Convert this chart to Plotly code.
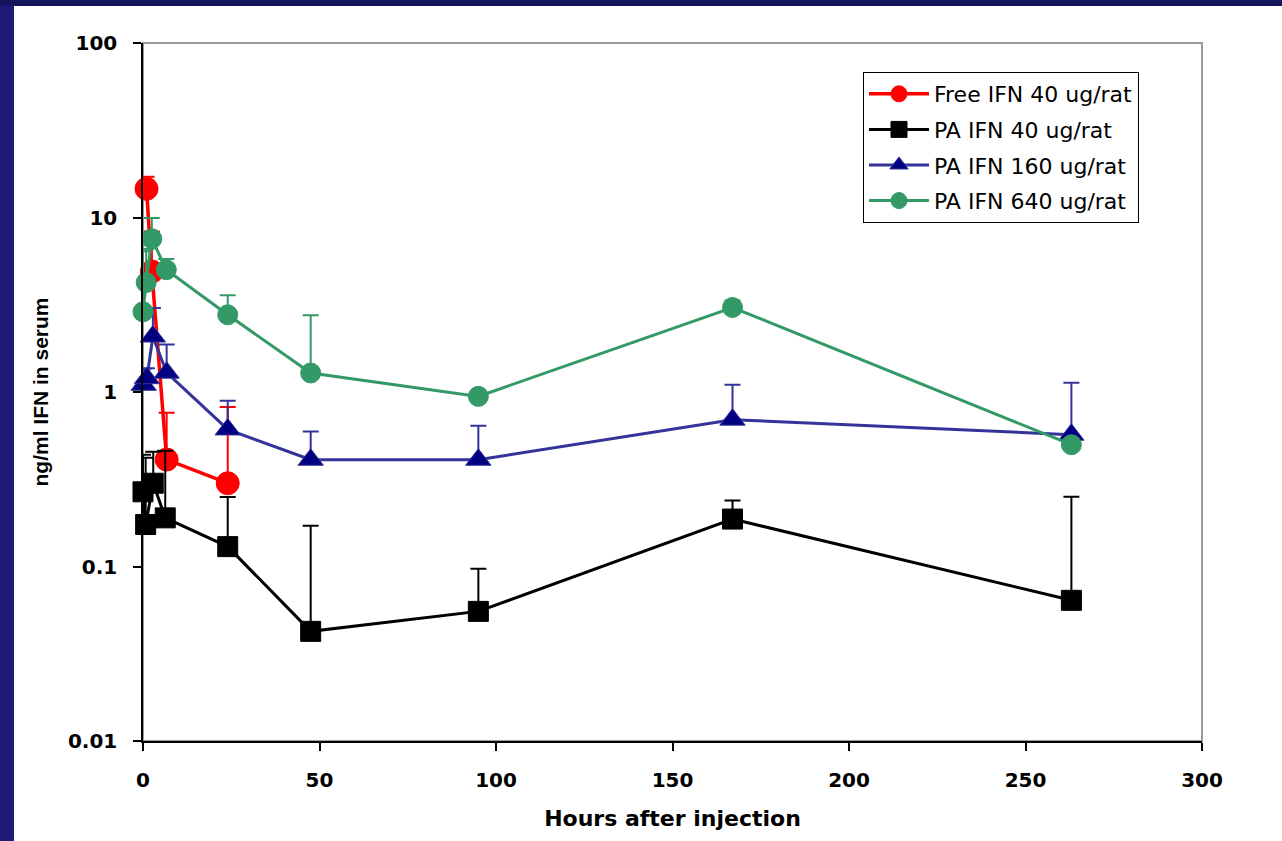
import plotly.graph_objects as go

# ---- data ----
free40_t = [1, 2.5, 6.7, 24]
free40_v = [14.6, 4.9, 0.41, 0.30]
free40_top = [17.1, 8.3, 0.76, 0.82]

pa40_t = [0, 0.75, 2.9, 6.3, 24, 47.5, 95, 167, 263]
pa40_v = [0.268, 0.174, 0.30, 0.19, 0.130, 0.0425, 0.0553, 0.187, 0.064]
pa40_top = [0.437, 0.42, 0.455, 0.46, 0.25, 0.171, 0.097, 0.239, 0.251]

pa160_t = [0.2, 1.1, 2.8, 6.7, 24, 47.5, 95, 167, 263]
pa160_v = [1.10, 1.20, 2.08, 1.29, 0.61, 0.409, 0.409, 0.694, 0.569]
pa160_top = [1.36, 1.37, 3.03, 1.87, 0.89, 0.594, 0.641, 1.10, 1.13]

pa640_t = [0, 0.9, 2.5, 6.6, 24, 47.5, 95, 167, 263]
pa640_v = [2.88, 4.24, 7.56, 5.02, 2.77, 1.285, 0.944, 3.05, 0.499]
pa640_top = [6.4, 6.6, 9.94, 5.78, 3.58, 2.75, 0.944, 3.35, 0.499]

names = ["Free IFN 40 ug/rat", "PA IFN 40 ug/rat", "PA IFN 160 ug/rat", "PA IFN 640 ug/rat"]
x_ticks = [0, 50, 100, 150, 200, 250, 300]
y_ticks = [0.01, 0.1, 1, 10, 100]
y_ticktext = ["0.01", "0.1", "1", "10", "100"]


def plus(vals, tops):
    return [max(t - v, 0) for v, t in zip(vals, tops)]


series = [
    (free40_t, free40_v, free40_top, names[0], "#ff0000", "#ff0000", "circle", 23, 3.5),
    (pa40_t, pa40_v, pa40_top, names[1], "#000000", "#000000", "square", 20, 3),
    (pa160_t, pa160_v, pa160_top, names[2], "#333399", "#000080", "triangle-up", 22, 3),
    (pa640_t, pa640_v, pa640_top, names[3], "#339966", "#339966", "circle", 20, 3),
]

fig = go.Figure()
for i, (t, v, top, nm, lc, mc, sym, ms, lw) in enumerate(series):
    fig.add_trace(go.Scatter(
        x=t, y=v, name=nm, mode="lines+markers",
        legendgroup=f"g{i}",
        line=dict(color=lc, width=lw),
        marker=dict(symbol=sym, size=ms, color=mc,
                    line=dict(color=lc, width=1)),
        error_y=dict(type="data", symmetric=False, array=plus(v, top),
                     arrayminus=[0] * len(v), color=lc, thickness=2, width=8),
        cliponaxis=False,
    ))

# plot-area frame (top/right grey)
fig.add_shape(type="rect", xref="paper", yref="paper", x0=0, y0=0, x1=1, y1=1,
              line=dict(color="#999999", width=2), layer="below")

# dark navy slide border strips
W, H = 1282, 841
L, R, T, B = 143, 80, 43, 100
pw, ph = W - L - R, H - T - B


def px_x(p):
    return (p - L) / pw


def px_y(p):
    return 1 - (p - T) / ph


fig.add_shape(type="rect", xref="paper", yref="paper",
              x0=px_x(0), x1=px_x(14), y0=px_y(H), y1=px_y(0),
              line=dict(width=0), fillcolor="#1f1a78", layer="above")
fig.add_shape(type="rect", xref="paper", yref="paper",
              x0=px_x(0), x1=px_x(W), y0=px_y(6), y1=px_y(0),
              line=dict(width=0), fillcolor="#16145c", layer="above")

tickfont = dict(family="DejaVu Sans", size=20, color="black", weight="bold")

fig.update_layout(
    width=W, height=H,
    margin=dict(l=L, r=R, t=T, b=B),
    paper_bgcolor="white", plot_bgcolor="white",
    showlegend=True,
    legend=dict(
        x=px_x(863), y=px_y(72), xanchor="left", yanchor="top",
        bgcolor="white", bordercolor="#000000", borderwidth=1,
        font=dict(family="DejaVu Sans", size=22, color="black"),
        itemwidth=60, tracegroupgap=4,
    ),
    xaxis=dict(
        range=[0, 300], tickvals=x_ticks, ticks="outside", ticklen=8,
        tickcolor="black", tickwidth=1.5, showline=True, linecolor="black",
        linewidth=1.5, showgrid=False, zeroline=False, tickfont=tickfont,
        ticklabelstandoff=12,
        title=dict(text="Hours after injection", standoff=20,
                   font=dict(family="DejaVu Sans", size=22, color="black", weight="bold")),
    ),
    yaxis=dict(
        type="log", range=[-2, 2], tickvals=y_ticks, ticktext=y_ticktext,
        ticks="outside", ticklen=8, tickcolor="black", tickwidth=1.5,
        showline=True, linecolor="black", linewidth=1.5, showgrid=False,
        zeroline=False, tickfont=tickfont, ticklabelstandoff=12,
        title=dict(text="ng/ml IFN in serum", standoff=14,
                   font=dict(family="Liberation Sans", size=21, color="black", weight="bold")),
    ),
)

fig.write_html("out.html")
